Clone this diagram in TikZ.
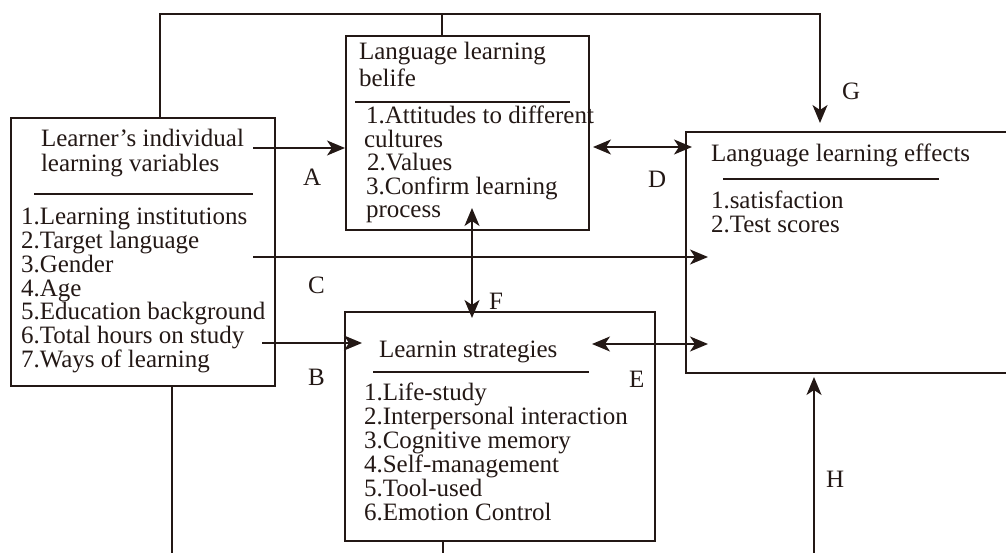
\documentclass[tikz,border=0pt]{standalone}
\usepackage{fontspec}
\setmainfont[Ligatures=NoCommon]{Liberation Serif}
\usetikzlibrary{arrows.meta, calc}
\definecolor{ink}{HTML}{231815}

\begin{document}
\begin{tikzpicture}[x=1pt, y=-1pt, color=ink, line width=2pt,
	font=\fontsize{25}{28}\selectfont,
	box/.style={draw, inner sep=0pt, anchor=north west},
	txt/.style={anchor=base west, inner sep=0pt},
	tip/.style={-{Stealth[length=18pt, width=15pt, inset=5pt]}},
	both/.style={{Stealth[length=18pt, width=15pt, inset=5pt]}-{Stealth[length=18pt, width=15pt, inset=5pt]}}]
	\def\dy{23.7}
	\useasboundingbox (0,0) rectangle (1006,553);

	% boxes
	\node[box, minimum width=264pt, minimum height=268pt] (var) at (10,117) {};
	\node[box, minimum width=243pt, minimum height=194pt] (blf) at (345,35) {};
	\node[box, minimum width=330pt, minimum height=241pt] (eff) at (685,131) {};
	\node[box, minimum width=310pt, minimum height=229pt] (stg) at (344,311) {};

	% learner variables
	\node[txt] (var-h1) at (40,147) {Learner’s individual};
	\node[txt] (var-h2) at (40,172) {learning variables};
	\draw (34,194) -- (253,194);
	\foreach \t [count=\i] in {1.Learning institutions, 2.Target language, 3.Gender, 4.Age, 5.Education background, 6.Total hours on study, 7.Ways of learning}
		\node[txt] (var-\i) at (20,{225+(\i-1)*\dy}) {\t};

	% belief
	\node[txt] (blf-h1) at (358,60) {Language learning};
	\node[txt] (blf-h2) at (358,87) {belife};
	\draw (355,102) -- (570,102);
	\node[txt] (blf-1) at (365,124) {1.Attitudes to different};
	\node[txt] (blf-2) at (363,147.5) {cultures};
	\node[txt] (blf-3) at (366,171) {2.Values};
	\node[txt] (blf-4) at (365,194.5) {3.Confirm learning};
	\node[txt] (blf-5) at (365,218) {process};

	% effects
	\node[txt] (eff-h) at (710,162) {Language learning effects};
	\draw (723,179) -- (939,179);
	\node[txt] (eff-1) at (710,209) {1.satisfaction};
	\node[txt] (eff-2) at (710,233) {2.Test scores};

	% strategies
	\node[txt] (stg-h) at (378,357) {Learnin strategies};
	\draw (373,372) -- (589,372);
	\foreach \t [count=\i] in {1.Life-study, 2.Interpersonal interaction, 3.Cognitive memory, 4.Self-management, 5.Tool-used, 6.Emotion Control}
		\node[txt] (stg-\i) at (363,{400+(\i-1)*24}) {\t};

	% labels
	\node[txt] (lA) at (302,186) {A};
	\node[txt] (lB) at (307,385) {B};
	\node[txt] (lC) at (307,293) {C};
	\node[txt] (lD) at (647,188) {D};
	\node[txt] (lE) at (628,387) {E};
	\node[txt] (lF) at (488,309) {F};
	\node[txt] (lG) at (841,100) {G};
	\node[txt] (lH) at (825,487) {H};

	% connectors
	\coordinate (a0) at (253,148);
	\coordinate (b0) at (262,343);
	\coordinate (b1) at (362,343);
	\coordinate (c0) at (253,257);
	\coordinate (c1) at (708,257);
	\coordinate (d0) at (593,147);
	\coordinate (d1) at (692,147);
	\coordinate (e0) at (592,344);
	\coordinate (e1) at (708,344);
	\coordinate (f0) at (472,208);
	\coordinate (f1) at (472,318);
	\coordinate (g0) at (160,14);
	\coordinate (g1) at (820,14);
	\coordinate (g2) at (442,14);
	\coordinate (v0) at (172,553);
	\coordinate (s0) at (443,553);
	\coordinate (h0) at (814,553);

	\draw[tip] (a0) -- (a0 -| blf.west);
	\draw[tip] (b0) -- (b1);
	\draw[tip] (c0) -- (c1);
	\draw[both] (d0) -- (d1);
	\draw[both] (e0) -- (e1);
	\draw[both] (f0) -- (f1);
	\draw[tip] (var.north -| g0) -- (g0) -- (g1) -- ([yshift=8pt]g1 |- eff.north);
	\draw (g2) -- (g2 |- blf.north);
	\draw (v0 |- var.south) -- (v0);
	\draw (s0 |- stg.south) -- (s0);
	\draw[tip] (h0) -- ([yshift=-3pt]h0 |- eff.south);
\end{tikzpicture}
\end{document}
